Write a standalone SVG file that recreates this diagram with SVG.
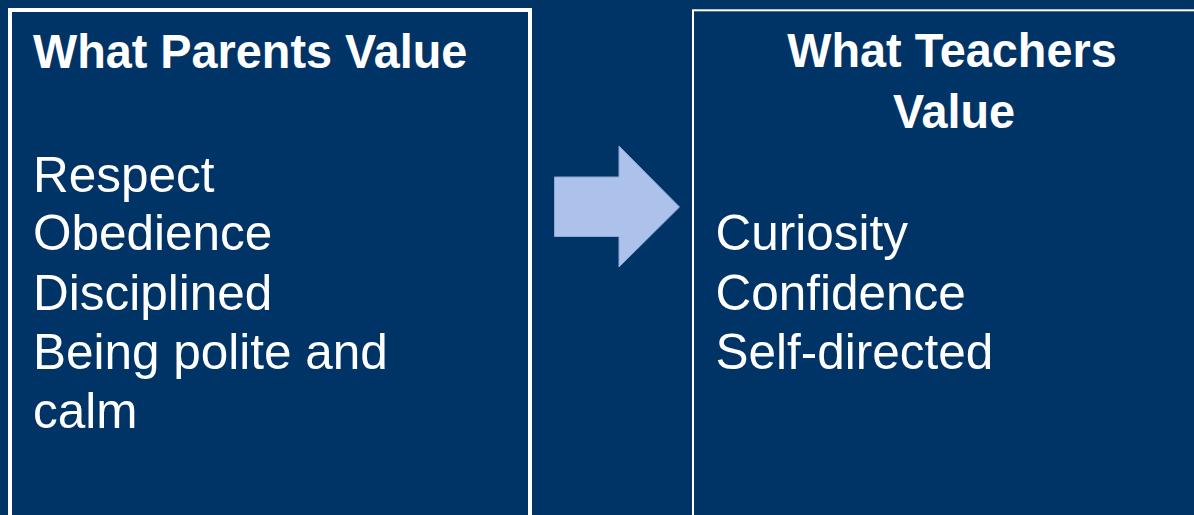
<svg xmlns="http://www.w3.org/2000/svg" width="1194" height="515" viewBox="0 0 1194 515">
  <style>
    .title { font-family: "Liberation Sans", Arial, sans-serif; font-weight: bold; font-size: 49px; fill: #ffffff; }
    .item { font-family: "Liberation Sans", Arial, sans-serif; font-size: 50.5px; fill: #ffffff; }
    .panel { fill: none; stroke: #ffffff; }
  </style>
  <rect x="0" y="0" width="1194" height="515" fill="#003366"/>

  <!-- Left panel: what parents value -->
  <g id="parents">
    <rect class="panel" x="10" y="10" width="520" height="530" stroke-width="4"/>
    <text class="title" transform="translate(33,68.3) scale(0.955,1)">What Parents Value</text>
    <text class="item" transform="translate(33,191.7) scale(0.98,1)">Respect</text>
    <text class="item" transform="translate(33,250) scale(0.98,1)">Obedience</text>
    <text class="item" transform="translate(33,309.7) scale(0.98,1)">Disciplined</text>
    <text class="item" transform="translate(33,368.5) scale(0.98,1)">Being polite and</text>
    <text class="item" transform="translate(33,428.3) scale(0.98,1)">calm</text>
  </g>

  <!-- Block arrow between the panels -->
  <g id="connectors">
    <polygon points="554.5,177 619,177 619,146 679.5,207 619,267 619,236.5 554.5,236.5"
             fill="#adc2ea" stroke="#8ea8d8" stroke-width="1"/>
  </g>

  <!-- Right panel: what teachers value -->
  <g id="teachers">
    <rect class="panel" x="693" y="10.3" width="540" height="530" stroke-width="2"/>
    <text class="title" text-anchor="middle" transform="translate(952,66.7) scale(0.955,1)">What Teachers</text>
    <text class="title" text-anchor="middle" transform="translate(954,128.3) scale(0.955,1)">Value</text>
    <text class="item" transform="translate(715.5,250) scale(0.98,1)">Curiosity</text>
    <text class="item" transform="translate(715.5,309.7) scale(0.98,1)">Confidence</text>
    <text class="item" transform="translate(715.5,368.5) scale(0.98,1)">Self-directed</text>
  </g>
</svg>
